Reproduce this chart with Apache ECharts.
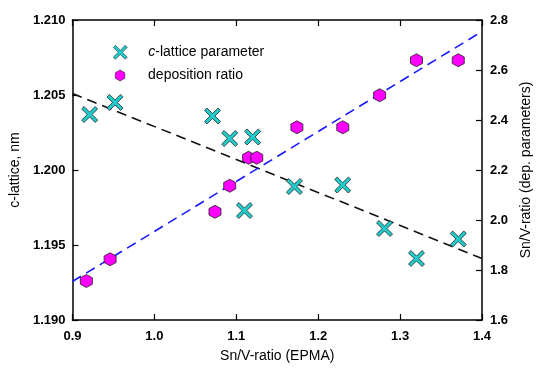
<!DOCTYPE html>
<html>
<head>
<meta charset="utf-8">
<script src="https://cdn.jsdelivr.net/npm/echarts@6/dist/echarts.min.js"></script>
<style>
  html, body { margin: 0; padding: 0; background: #fff; }
  #chart { width: 541px; height: 368px; }
</style>
</head>
<body>
<div id="chart"></div>
<script>
// c-lattice parameter (nm) against Sn/V ratio from EPMA
const latticeX = [0.921, 0.952, 1.071, 1.092, 1.120, 1.110, 1.171, 1.230, 1.281, 1.320, 1.371];
const latticeY = [1.2037, 1.2045, 1.2036, 1.2021, 1.2022, 1.1973, 1.1989, 1.1990, 1.1961, 1.1941, 1.1954];

// Sn/V ratio from deposition parameters against Sn/V ratio from EPMA
const depX = [0.917, 0.946, 1.074, 1.092, 1.115, 1.125, 1.174, 1.230, 1.275, 1.320, 1.371];
const depY = [1.756, 1.843, 2.033, 2.137, 2.249, 2.249, 2.371, 2.371, 2.499, 2.639, 2.639];

// linear fit end points
const latticeFitX = [0.9, 1.4];
const latticeFitY = [1.2051, 1.1941];
const depFitX = [0.9, 1.4];
const depFitY = [1.754, 2.754];

const FONT = '"Liberation Sans", Arial, sans-serif';
const crossPath = 'path://M1.5,0 L5,3.5 L8.5,0 L10,1.5 L6.5,5 L10,8.5 L8.5,10 L5,6.5 L1.5,10 L0,8.5 L3.5,5 L0,1.5 Z';
const hexPath = 'path://M5,0 L9.33,2.5 L9.33,7.5 L5,10 L0.67,7.5 L0.67,2.5 Z';

const zip = (xs, ys) => xs.map((x, i) => [x, ys[i]]);

const axisLine = { show: true, lineStyle: { color: '#000', width: 1.5 } };
const tickIn = { show: true, inside: true, length: 6, lineStyle: { color: '#000', width: 1.2 } };
const tickLabel = { color: '#000', fontFamily: FONT, fontSize: 13, fontWeight: 'bold' };
const legendText = {
  color: '#000', fontFamily: FONT, fontSize: 14,
  rich: { i: { fontStyle: 'italic', fontFamily: FONT, fontSize: 14, color: '#000' } }
};

const chart = echarts.init(document.getElementById('chart'), null, { renderer: 'canvas' });
chart.setOption({
  animation: false,
  backgroundColor: '#fff',
  grid: { left: 69, right: 50, top: 20, bottom: 45, containLabel: false },
  legend: [
    {
      left: 108, top: 40, itemWidth: 14, itemHeight: 14,
      data: ['lattice'],
      itemStyle: { color: '#22cccc', borderColor: '#222', borderWidth: 0.6 },
      formatter: () => '{i|c}-lattice parameter',
      textStyle: Object.assign({ padding: [0, 0, 0, 16] }, legendText)
    },
    {
      left: 110, top: 63.5, itemWidth: 10, itemHeight: 11,
      data: ['deposition'],
      itemStyle: { color: '#ff00ff', borderColor: '#222', borderWidth: 0.6 },
      formatter: () => 'deposition ratio',
      textStyle: Object.assign({ padding: [0, 0, 0, 18] }, legendText)
    }
  ],
  xAxis: [
    {
      type: 'value', min: 0.9, max: 1.4, interval: 0.1, position: 'bottom',
      name: 'Sn/V-ratio (EPMA)', nameLocation: 'middle', nameGap: 29,
      nameTextStyle: { color: '#000', fontFamily: FONT, fontSize: 14 },
      axisLine, axisTick: tickIn,
      axisLabel: Object.assign({ margin: 10, formatter: v => v.toFixed(1) }, tickLabel),
      splitLine: { show: false }
    },
    {
      type: 'value', min: 0.9, max: 1.4, interval: 0.1, position: 'top',
      axisLine, axisTick: tickIn, axisLabel: { show: false }, splitLine: { show: false }
    }
  ],
  yAxis: [
    {
      type: 'value', min: 1.19, max: 1.21, interval: 0.005, position: 'left',
      name: 'c-lattice, nm', nameLocation: 'middle', nameGap: 47,
      nameTextStyle: { color: '#000', fontFamily: FONT, fontSize: 14 },
      axisLine, axisTick: tickIn,
      axisLabel: Object.assign({ margin: 7, formatter: v => v.toFixed(3) }, tickLabel),
      splitLine: { show: false }
    },
    {
      type: 'value', min: 1.6, max: 2.8, interval: 0.2, position: 'right',
      name: 'Sn/V-ratio (dep. parameters)', nameLocation: 'middle', nameGap: 35,
      nameTextStyle: { color: '#000', fontFamily: FONT, fontSize: 14 },
      axisLine, axisTick: tickIn,
      axisLabel: Object.assign({ margin: 8, formatter: v => v.toFixed(1) }, tickLabel),
      splitLine: { show: false }
    }
  ],
  series: [
    {
      name: 'latticeFit', type: 'line', xAxisIndex: 0, yAxisIndex: 0,
      data: zip(latticeFitX, latticeFitY), symbol: 'none', silent: true, z: 1,
      lineStyle: { color: '#111', width: 1.6, type: [10, 6] }
    },
    {
      name: 'depFit', type: 'line', xAxisIndex: 0, yAxisIndex: 1,
      data: zip(depFitX, depFitY), symbol: 'none', silent: true, z: 1,
      lineStyle: { color: '#1a1aff', width: 1.6, type: [10, 6] }
    },
    {
      name: 'lattice', type: 'scatter', xAxisIndex: 0, yAxisIndex: 0,
      data: zip(latticeX, latticeY), symbol: crossPath, symbolSize: 16, z: 3,
      itemStyle: { color: '#22cccc', borderColor: '#222', borderWidth: 0.8, opacity: 1 }
    },
    {
      name: 'deposition', type: 'scatter', xAxisIndex: 0, yAxisIndex: 1,
      data: zip(depX, depY), symbol: hexPath, symbolSize: [12, 13], z: 3,
      itemStyle: { color: '#ff00ff', borderColor: '#222', borderWidth: 0.8, opacity: 1 }
    }
  ]
});
</script>
</body>
</html>
